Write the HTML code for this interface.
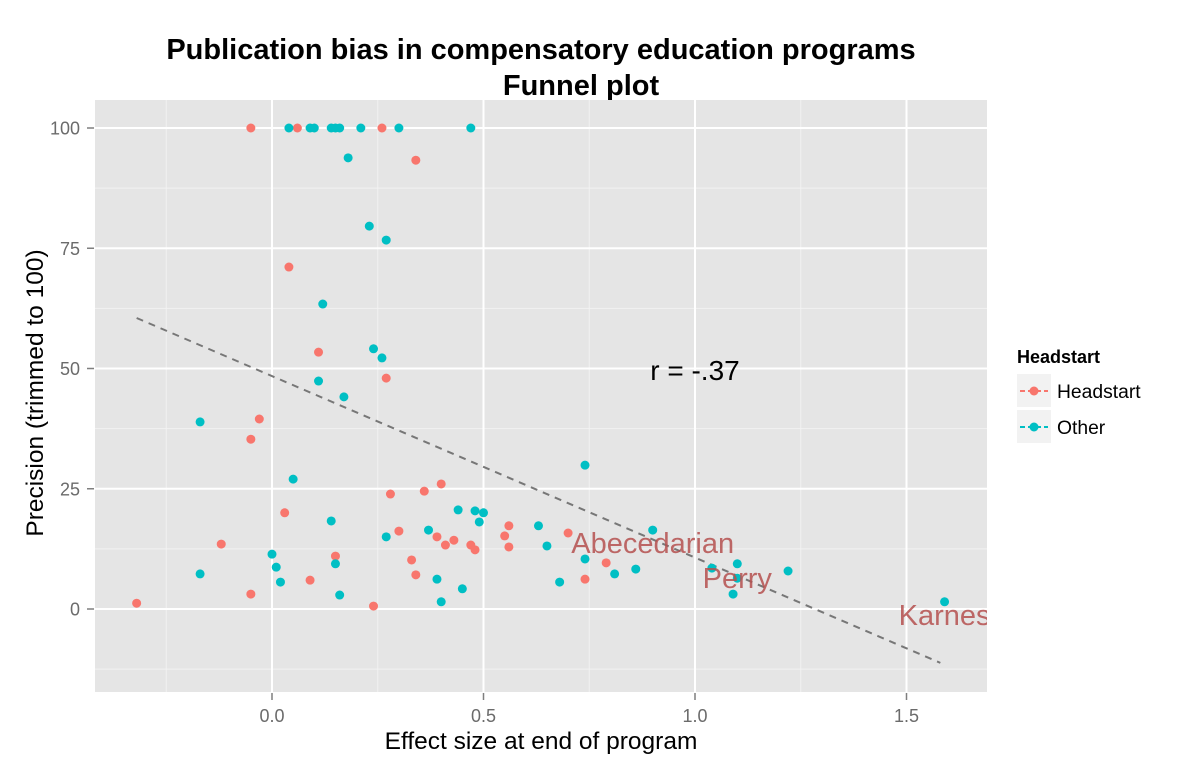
<!DOCTYPE html>
<html><head><meta charset="utf-8"><style>
html,body{margin:0;padding:0;background:#fff;}
svg{display:block;font-family:"Liberation Sans",Arial,sans-serif;}
</style></head><body>
<svg id="chart" width="1200" height="770">
<text x="541" y="59" text-anchor="middle" font-size="29" font-weight="bold" fill="#000">Publication bias in compensatory education programs</text>
<text x="581" y="95" text-anchor="middle" font-size="29" font-weight="bold" fill="#000">Funnel plot</text>
<rect x="95" y="100" width="892" height="592" fill="#E5E5E5"/>
<g id="grid"></g>
<g id="axes"></g>
<g id="marks"></g>
<text x="541" y="749" text-anchor="middle" font-size="24.5" fill="#000">Effect size at end of program</text>
<text transform="translate(43,393) rotate(-90)" text-anchor="middle" font-size="24.5" fill="#000">Precision (trimmed to 100)</text>
<g>
<text x="1017" y="363" font-size="18" font-weight="bold" fill="#000">Headstart</text>
<g>
<rect x="1017" y="374" width="34" height="33" fill="#F2F2F2"/>
<line x1="1020" y1="391" x2="1048" y2="391" stroke="#F8766D" stroke-width="2" stroke-dasharray="5,3"/>
<circle cx="1034" cy="391" r="4.5" fill="#F8766D"/>
<text x="1057" y="398" font-size="19.3" fill="#000">Headstart</text>
</g>
<g>
<rect x="1017" y="410" width="34" height="33" fill="#F2F2F2"/>
<line x1="1020" y1="427" x2="1048" y2="427" stroke="#00BFC4" stroke-width="2" stroke-dasharray="5,3"/>
<circle cx="1034" cy="427" r="4.5" fill="#00BFC4"/>
<text x="1057" y="434" font-size="19.3" fill="#000">Other</text>
</g>
</g>
</svg>
<script>
const headX=[-0.05,0.06,0.26,0.34,0.04,0.11,0.27,-0.03,-0.05,0.28,0.36,0.40,0.03,0.30,0.39,0.41,0.43,0.47,0.48,0.33,0.34,0.15,0.09,-0.12,-0.05,-0.32,0.24,0.56,0.55,0.56,0.70,0.79,0.74];
const headY=[100,100,100,93.3,71.1,53.4,48.0,39.5,35.3,23.9,24.5,26.0,20.0,16.2,15.0,13.3,14.3,13.3,12.3,10.2,7.1,11.0,6.0,13.5,3.1,1.2,0.6,17.3,15.2,12.9,15.8,9.6,6.2];
const otherX=[0.04,0.09,0.10,0.14,0.15,0.16,0.21,0.30,0.47,0.18,0.23,0.27,0.12,0.24,0.26,0.11,0.17,-0.17,0.05,0.14,0.00,0.01,0.02,-0.17,0.15,0.16,0.27,0.37,0.44,0.48,0.50,0.49,0.39,0.45,0.40,0.63,0.65,0.74,0.90,0.74,0.81,0.86,0.68,1.04,1.10,1.10,1.09,1.22,1.59];
const otherY=[100,100,100,100,100,100,100,100,100,93.8,79.6,76.7,63.4,54.1,52.2,47.4,44.1,38.9,27.0,18.3,11.4,8.7,5.6,7.3,9.4,2.9,15.0,16.4,20.6,20.4,20.0,18.1,6.2,4.2,1.5,17.3,13.1,29.9,16.4,10.4,7.3,8.3,5.6,8.5,9.4,6.4,3.1,7.9,1.5];
const labelNames=["Abecedarian","Perry","Karnes"];
const labelX=[0.90,1.10,1.59];
const labelY=[13.7,6.4,-1.2];
const lineX=[-0.32,1.58];
const lineY=[60.5,-11.2];
const xTicks=[0,0.5,1,1.5];
const xTickLabels=["0.0","0.5","1.0","1.5"];
const xMinor=[-0.25,0.25,0.75,1.25];
const yTicks=[0,25,50,75,100];
const yTickLabels=["0","25","50","75","100"];
const yMinor=[-12.5,12.5,37.5,62.5,87.5];

const X0=95,X1=987,Y0=100,Y1=692;
function sx(v){return 272+v*423;}
function sy(v){return 609-v*4.81;}
const NS="http://www.w3.org/2000/svg";
function mk(tag,attrs,parent){const e=document.createElementNS(NS,tag);for(const k in attrs)e.setAttribute(k,attrs[k]);parent.appendChild(e);return e;}
const grid=document.getElementById('grid'),axes=document.getElementById('axes'),marks=document.getElementById('marks');
xMinor.forEach(v=>{const l=mk('line',{x1:sx(v),x2:sx(v),y1:Y0,y2:Y1,stroke:'#F2F2F2','stroke-width':1},grid);

});
yMinor.forEach(v=>{const l=mk('line',{x1:X0,x2:X1,y1:sy(v),y2:sy(v),stroke:'#F2F2F2','stroke-width':1},grid);

});
xTicks.forEach((v,i)=>{const l=mk('line',{x1:sx(v),x2:sx(v),y1:Y0,y2:Y1,stroke:'#fff','stroke-width':2},grid);


mk('line',{x1:sx(v),x2:sx(v),y1:Y1+1,y2:Y1+8,stroke:'#7f7f7f','stroke-width':1.5},axes);
const t=mk('text',{x:sx(v),y:722,'text-anchor':'middle','font-size':18,fill:'#6b6b6b'},axes);t.textContent=xTickLabels[i];

});
yTicks.forEach((v,i)=>{const l=mk('line',{x1:X0,x2:X1,y1:sy(v),y2:sy(v),stroke:'#fff','stroke-width':2},grid);


mk('line',{x1:X0-8,x2:X0-1,y1:sy(v),y2:sy(v),stroke:'#7f7f7f','stroke-width':1.5},axes);
const t=mk('text',{x:X0-15,y:sy(v)+6.5,'text-anchor':'end','font-size':18,fill:'#6b6b6b'},axes);t.textContent=yTickLabels[i];

});
const rl=mk('line',{x1:sx(lineX[0]),y1:sy(lineY[0]),x2:sx(lineX[1]),y2:sy(lineY[1]),stroke:'#777','stroke-width':2,'stroke-dasharray':'7,6'},marks);


headX.forEach((v,i)=>{const c=mk('circle',{cx:sx(v),cy:sy(headY[i]),r:4.5,fill:'#F8766D'},marks);

});
otherX.forEach((v,i)=>{const c=mk('circle',{cx:sx(v),cy:sy(otherY[i]),r:4.5,fill:'#00BFC4'},marks);

});
const clip=mk('clipPath',{id:'pc'},document.getElementById('chart'));mk('rect',{x:X0,y:Y0,width:X1-X0,height:Y1-Y0},clip);
labelNames.forEach((n,i)=>{const t=mk('text',{x:sx(labelX[i]),y:sy(labelY[i])+10,'text-anchor':'middle','font-size':29,fill:'#B5504F','fill-opacity':0.85,'clip-path':'url(#pc)'},marks);t.textContent=n;

});
const r=mk('text',{x:sx(1.0),y:sy(49.7)+10,'text-anchor':'middle','font-size':28,fill:'#000'},marks);r.textContent='r = -.37';


</script>
</body></html>
